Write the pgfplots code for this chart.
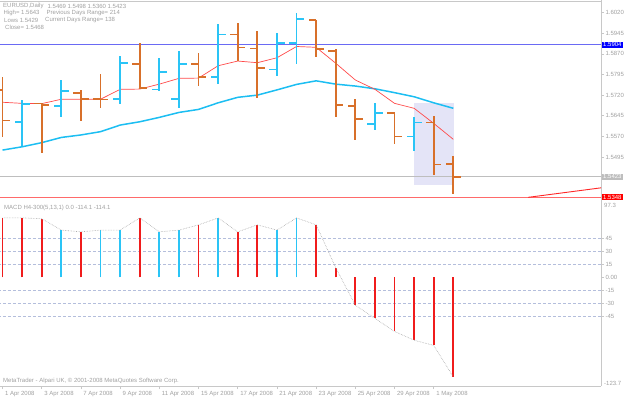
\documentclass[border=0pt]{standalone}
\usepackage{pgfplots}
\pgfplotsset{compat=1.18}
\usepackage{pgfplotstable}
\usepackage{fontspec}
\setmainfont{Liberation Sans}
\definecolor{bullc}{HTML}{2AC4F6}
\definecolor{bearc}{HTML}{D8702A}
\definecolor{maR}{HTML}{FF4A4A}
\definecolor{maB}{HTML}{1CBEF2}
\definecolor{txt}{HTML}{A0A0A0}
\definecolor{frm}{HTML}{C8C8C8}
\definecolor{shade}{HTML}{E4E4F7}
\definecolor{hblue}{HTML}{6A6AF4}
\definecolor{bidgrey}{HTML}{BEBEBE}
\definecolor{lowred}{HTML}{FF6A6A}
\definecolor{mgrid}{HTML}{B4BEDC}
\definecolor{macdR}{HTML}{F01C1C}
\definecolor{macdB}{HTML}{2AC4F6}

\pgfplotstableread{
i o h l c
1 1.5623 1.5702 1.5536 1.5688
3 1.5681 1.5775 1.5639 1.5736
6 1.5705 1.5862 1.5687 1.5836
8 1.5741 1.5854 1.5736 1.5805
9 1.5705 1.5882 1.5672 1.5833
11 1.5785 1.5978 1.5759 1.5941
14 1.5813 1.5945 1.5790 1.5909
15 1.5909 1.6018 1.5833 1.5996
19 1.5615 1.5692 1.5593 1.5654
21 1.5569 1.5641 1.5518 1.5620
}\bull

\pgfplotstableread{
i o h l c
0 1.5739 1.5787 1.5569 1.5627
2 1.5689 1.5692 1.5510 1.5683
4 1.5728 1.5739 1.5627 1.5705
5 1.5705 1.5797 1.5674 1.5704
7 1.5833 1.5911 1.5742 1.5745
10 1.5833 1.5872 1.5753 1.5787
12 1.5941 1.5981 1.5845 1.5893
13 1.5889 1.5954 1.5711 1.5818
16 1.5993 1.5993 1.5858 1.5887
17 1.5881 1.5889 1.5639 1.5683
18 1.5681 1.5707 1.5557 1.5632
20 1.5654 1.5657 1.5541 1.5569
22 1.5620 1.5643 1.5429 1.5468
23 1.5469 1.5498 1.5360 1.5423
}\bear

\pgfplotstableread{
i r b
0 1.5694 1.5520
1 1.5690 1.5532
2 1.5689 1.5547
3 1.5705 1.5566
4 1.5705 1.5575
5 1.5705 1.5587
6 1.5741 1.5611
7 1.5742 1.5623
8 1.5760 1.5639
9 1.5781 1.5657
10 1.5782 1.5668
11 1.5827 1.5692
12 1.5844 1.5712
13 1.5838 1.5720
14 1.5856 1.5739
15 1.5897 1.5759
16 1.5894 1.5772
17 1.5836 1.5760
18 1.5775 1.5753
19 1.5741 1.5743
20 1.5690 1.5729
21 1.5672 1.5714
22 1.5617 1.5692
23 1.5559 1.5672
}\ma

\pgfplotstableread{
i v
0 68
1 68
2 67
3 54
4 52
5 54
6 54
7 68
8 52
9 54
10 60
11 68
12 52
13 60
14 54
15 68
16 60
17 11
18 -32
19 -47
20 -62
21 -72
22 -78
23 -114.1
}\macd

\pgfplotstableread{
i v
0 68
1 68
2 67
4 52
7 68
10 60
12 52
13 60
16 60
17 11
18 -32
19 -47
20 -62
21 -72
22 -78
23 -114.1
}\macdred

\pgfplotstableread{
i v
3 54
5 54
6 54
8 52
9 54
11 68
14 54
15 68
}\macdblue

\pgfplotsset{
  ohlcbase/.style={draw=none, mark=none, forget plot},
}

\begin{document}
\begin{tikzpicture}[font=\fontsize{6}{7}\selectfont]
\path[use as bounding box] (0pt,0pt) rectangle (625pt,-397pt);

\draw[frm, line width=0.8pt] (0pt,-1pt) -- (601pt,-1pt);
\draw[frm, line width=0.8pt] (601pt,0pt) -- (601pt,-386pt);
\draw[frm, line width=0.8pt] (0pt,-386pt) -- (601pt,-386pt);

\begin{axis}[
  name=main,
  at={(0pt,0pt)}, anchor=north west,
  scale only axis, width=601pt, height=199pt,
  xmin=-0.1300, xmax=30.5330,
  ymin=1.53419, ymax=1.60662,
  axis line style={draw=none},
  xtick=\empty,
  scaled y ticks=false,
  ytick={1.5495,1.5570,1.5645,1.5720,1.5795,1.5870,1.5945,1.6020},
  yticklabels={1.5495,1.5570,1.5645,1.5720,1.5795,1.5870,1.5945,1.6020},
  ytick pos=right, yticklabel pos=right,
  tick align=outside, major tick length=3pt,
  tick style={draw=frm, line width=0.6pt},
  yticklabel style={font=\fontsize{6}{7}\selectfont, text=txt, anchor=west, xshift=-2pt},
  clip=true,
]
\addplot[fill=shade, draw=none, forget plot] coordinates {(21,1.5692) (23.03,1.5692) (23.03,1.5393) (21,1.5393)} -- cycle;
\addplot[hblue, line width=1.2pt, forget plot] coordinates {(-1,1.5904) (31,1.5904)};
\addplot[bidgrey, line width=0.8pt, forget plot] coordinates {(-1,1.5423) (31,1.5423)};
\addplot[lowred, line width=1.6pt, forget plot] coordinates {(-1,1.5348) (31,1.5348)};
\addplot[red!85!white, line width=0.9pt, forget plot] coordinates {(26.82,1.5348) (30.58,1.5383)};
\addplot[maB, line width=1.5pt, forget plot] table[x=i, y=b] {\ma};
\addplot[maR, line width=0.7pt, forget plot] table[x=i, y=r] {\ma};
\addplot[ohlcbase, error bars/.cd, y dir=both, y explicit, error mark=none,
  error bar style={draw=bullc, line width=1.8pt}]
  table[x=i, y expr=(\thisrow{h}+\thisrow{l})/2, y error expr=(\thisrow{h}-\thisrow{l})/2] {\bull};
\addplot[ohlcbase, error bars/.cd, x dir=minus, x fixed=0.39, error mark=none,
  error bar style={draw=bullc, line width=1.6pt}]
  table[x=i, y=o] {\bull};
\addplot[ohlcbase, error bars/.cd, x dir=plus, x fixed=0.39, error mark=none,
  error bar style={draw=bullc, line width=1.6pt}]
  table[x=i, y=c] {\bull};
\addplot[ohlcbase, error bars/.cd, y dir=both, y explicit, error mark=none,
  error bar style={draw=bearc, line width=1.8pt}]
  table[x=i, y expr=(\thisrow{h}+\thisrow{l})/2, y error expr=(\thisrow{h}-\thisrow{l})/2] {\bear};
\addplot[ohlcbase, error bars/.cd, x dir=minus, x fixed=0.39, error mark=none,
  error bar style={draw=bearc, line width=1.6pt}]
  table[x=i, y=o] {\bear};
\addplot[ohlcbase, error bars/.cd, x dir=plus, x fixed=0.39, error mark=none,
  error bar style={draw=bearc, line width=1.6pt}]
  table[x=i, y=c] {\bear};
\end{axis}

\begin{axis}[
  at={(0pt,-201pt)}, anchor=north west,
  scale only axis, width=601pt, height=185pt,
  xmin=-0.1300, xmax=30.5330,
  ymin=-124.4, ymax=87.3,
  axis line style={draw=none},
  xtick={0,2,...,22},
  xticklabels={1 Apr 2008,3 Apr 2008,7 Apr 2008,9 Apr 2008,11 Apr 2008,15 Apr 2008,17 Apr 2008,21 Apr 2008,23 Apr 2008,25 Apr 2008,29 Apr 2008,1 May 2008},
  xtick pos=bottom,
  xticklabel style={font=\fontsize{6}{7}\selectfont, text=txt, anchor=north west, xshift=-1pt, yshift=1pt},
  ytick={-45,-30,-15,0,15,30,45},
  yticklabels={-45,-30,-15,0.00,15,30,45},
  ytick pos=right, yticklabel pos=right,
  tick align=outside, major tick length=3pt,
  tick style={draw=frm, line width=0.6pt},
  yticklabel style={font=\fontsize{6}{7}\selectfont, text=txt, anchor=west, xshift=-2pt},
  clip=true,
]
\addplot[mgrid, densely dashed, line width=0.5pt, forget plot] coordinates {(-1,45) (31,45)};
\addplot[mgrid, densely dashed, line width=0.5pt, forget plot] coordinates {(-1,30) (31,30)};
\addplot[mgrid, densely dashed, line width=0.5pt, forget plot] coordinates {(-1,15) (31,15)};
\addplot[mgrid, densely dashed, line width=0.5pt, forget plot] coordinates {(-1,-15) (31,-15)};
\addplot[mgrid, densely dashed, line width=0.5pt, forget plot] coordinates {(-1,-30) (31,-30)};
\addplot[mgrid, densely dashed, line width=0.5pt, forget plot] coordinates {(-1,-45) (31,-45)};
\addplot[ycomb, macdR, line width=1.8pt, mark=none, forget plot] table[x=i, y=v] {\macdred};
\addplot[ycomb, macdB, line width=1.8pt, mark=none, forget plot] table[x=i, y=v] {\macdblue};
\addplot[gray!70, densely dotted, line width=0.6pt, mark=none, forget plot] table[x=i, y=v] {\macd};
\end{axis}

\begin{scope}[every node/.style={text=txt, inner sep=0pt, anchor=west, font=\fontsize{6}{7}\selectfont}]
\node at (3pt,-6pt) {EURUSD,Daily};
\node at (47.5pt,-6pt) {1.5469 1.5498 1.5360 1.5423};
\node at (3.5pt,-13pt) {High= 1.5643};
\node at (46.5pt,-13pt) {Previous Days Range= 214};
\node at (4pt,-20.2pt) {Lows 1.5429};
\node at (45pt,-20.2pt) {Current Days Range= 138};
\node at (5pt,-27.5pt) {Close= 1.5468};
\node at (4pt,-207.7pt) {MACD H4-300(5,13,1) 0.0 -114.1 -114.1};
\node at (3pt,-380.5pt) {MetaTrader - Alpari UK, \textcopyright\ 2001-2008 MetaQuotes Software Corp.};
\node at (604pt,-205pt) {97.3};
\node at (604pt,-383pt) {-123.7};
\end{scope}
\begin{scope}[every node/.style={inner xsep=1pt, inner ysep=0.8pt, anchor=west, text=white}]
\node[fill=blue] at (602pt,-44.6pt) {1.5904};
\node[fill=bidgrey] at (602pt,-176.7pt) {1.5423};
\node[fill=red] at (602pt,-197.3pt) {1.5348};
\end{scope}
\end{tikzpicture}
\end{document}
